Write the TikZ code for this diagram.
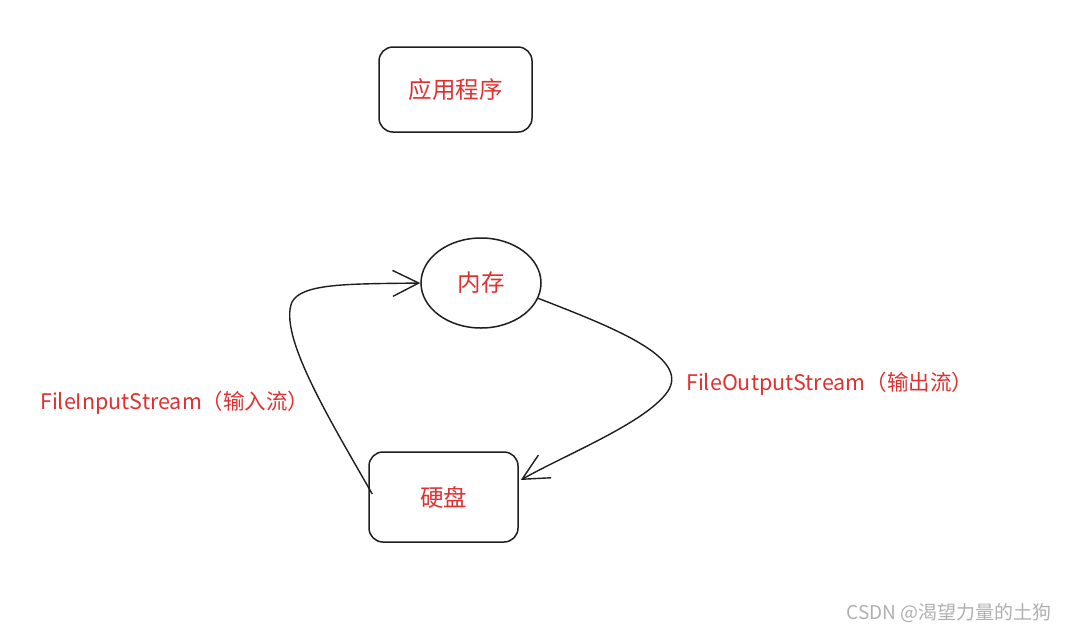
\documentclass[tikz,border=0pt]{standalone}
\usepackage{fontspec}
\setmainfont{Noto Sans CJK SC}
\usetikzlibrary{shapes.geometric,arrows.meta,calc}
\definecolor{exred}{HTML}{E03131}
\definecolor{ink}{HTML}{1E1E1E}
\definecolor{wm}{HTML}{B0B0B0}
\begin{document}
\begin{tikzpicture}[x=1pt,y=-1pt,
  boxstyle/.style={draw=ink, line width=1.5pt, rounded corners=14pt, inner sep=0pt},
  memstyle/.style={draw=ink, ellipse, line width=1.5pt, inner sep=0pt, minimum width=120pt, minimum height=90pt},
  txt/.style={text=exred, font=\fontsize{23.5}{26}\selectfont},
  lbl/.style={text=exred, font=\fontsize{21.5}{24}\selectfont, anchor=west, inner sep=0pt},
  conn/.style={draw=ink, line width=1.4pt, -{Straight Barb[length=26pt,width=26pt,line width=1.4pt]}}]
\useasboundingbox (0,0) rectangle (1069,633);
\fill[white] (0,0) rectangle (1069,633);
\node[boxstyle, minimum width=153pt, minimum height=85pt, txt] (app) at (455.5,89.5) {应用程序};
\node[memstyle, txt] (mem) at (481,283) {内存};
\node[boxstyle, minimum width=149pt, minimum height=90pt, txt] (hd) at (443.5,497) {硬盘};
\coordinate (inS) at ($(hd.west)+(4,-3)$);
\coordinate (outE) at ($(hd.east)+(2,-17)$);
\draw[conn] (inS) .. controls (330,420) and (278,335) .. (292,302)
  .. controls (302,283) and (350,284) .. (mem.west);
\draw[conn] (mem.-15) .. controls (620,330) and (695,360) .. (665,395)
  .. controls (640,425) and (565,455) .. (outE);
\node[lbl] (inl) at (40,403) {FileInputStream（输入流）};
\node[lbl] (outl) at (686,384) {FileOutputStream（输出流）};
\node[text=wm, font=\fontsize{19}{21}\selectfont, inner sep=0pt] (mark) at (949,613) {CSDN @渴望力量的土狗};
\end{tikzpicture}
\end{document}
